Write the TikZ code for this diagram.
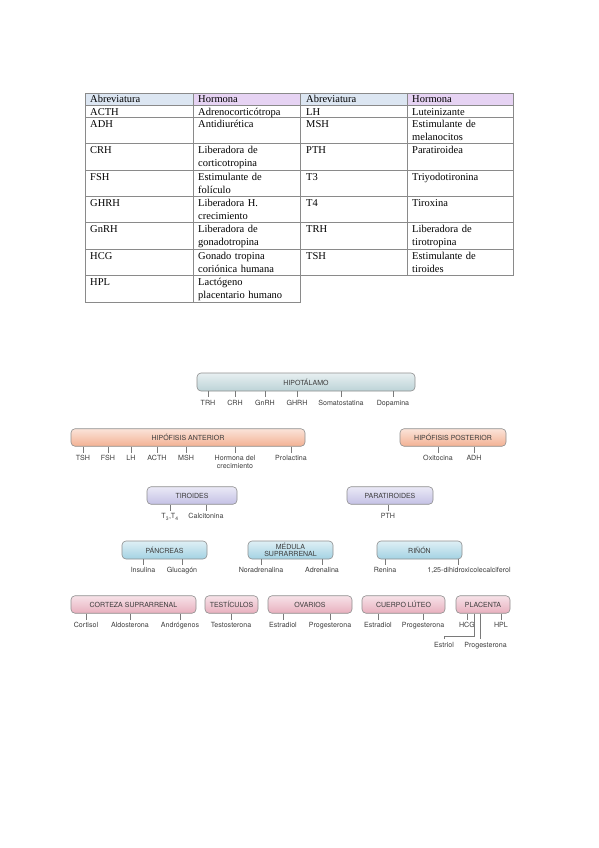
\documentclass[tikz,border=0pt]{standalone}
\usepackage{fontspec}
\setmainfont{Liberation Serif}
\newfontfamily\labfont{TeX Gyre Heros}

\definecolor{hipc}{HTML}{BCD3D7}
\definecolor{hifc}{HTML}{F3B193}
\definecolor{tirc}{HTML}{C4C1E5}
\definecolor{panc}{HTML}{A3D2E3}
\definecolor{corc}{HTML}{E8AFBE}
\definecolor{boxline}{HTML}{8E8E8E}
\definecolor{labtext}{HTML}{3C3C3C}
\definecolor{tickc}{HTML}{7A7A7A}
\definecolor{hdblue}{HTML}{DCE6F2}
\definecolor{hdlila}{HTML}{E6D3F3}
\definecolor{tline}{HTML}{8A8A8A}

\begin{document}
\begin{tikzpicture}[x=1pt, y=-1pt]
        \useasboundingbox (0,0) rectangle (599,848);

        % table
        \tikzstyle{cell} = [anchor=north west, inner sep=0pt, text width=100pt, align=left, font=\fontsize{10.5}{13}\selectfont]
        \tikzstyle{tl} = [draw=tline, line width=0.9pt]

        \fill[hdblue] (85,93) rectangle (193,105.5);
        \fill[hdlila] (193,93) rectangle (300,105.5);
        \fill[hdblue] (300,93) rectangle (407,105.5);
        \fill[hdlila] (407,93) rectangle (513,105.5);

        \draw[tl] (85,93) rectangle (300,302);
        \draw[tl] (300,93) rectangle (513,275.6);
        \draw[tl] (193,93) -- (193,302);
        \draw[tl] (407,93) -- (407,275.6);
        \foreach \y in {105.5,117.5,143.9,170.2,196.6,222.9,249.3,275.6}
            \draw[tl] (85,\y) -- (300,\y);
        \foreach \y in {105.5,117.5,143.9,170.2,196.6,222.9,249.3}
            \draw[tl] (300,\y) -- (513,\y);

        \node (abr1) [cell] at (90,93.5) {\strut Abreviatura};
        \node (hor1) [cell] at (198,93.5) {\strut Hormona};
        \node (abr2) [cell] at (306,93.5) {\strut Abreviatura};
        \node (hor2) [cell] at (412,93.5) {\strut Hormona};

        \node (acth-a) [cell] at (90,106) {\strut ACTH};
        \node (acth-h) [cell] at (198,106) {\strut Adrenocortic\'otropa};
        \node (adh-a) [cell] at (90,118) {\strut ADH};
        \node (adh-h) [cell] at (198,118) {\strut Antidiur\'etica};
        \node (crh-a) [cell] at (90,144.4) {\strut CRH};
        \node (crh-h) [cell] at (198,144.4) {\strut Liberadora de\\corticotropina};
        \node (fsh-a) [cell] at (90,170.7) {\strut FSH};
        \node (fsh-h) [cell] at (198,170.7) {\strut Estimulante de\\fol\'iculo};
        \node (ghrh-a) [cell] at (90,197.1) {\strut GHRH};
        \node (ghrh-h) [cell] at (198,197.1) {\strut Liberadora H.\\crecimiento};
        \node (gnrh-a) [cell] at (90,223.4) {\strut GnRH};
        \node (gnrh-h) [cell] at (198,223.4) {\strut Liberadora de\\gonadotropina};
        \node (hcg-a) [cell] at (90,249.8) {\strut HCG};
        \node (hcg-h) [cell] at (198,249.8) {\strut Gonado tropina\\cori\'onica humana};
        \node (hpl-a) [cell] at (90,276.1) {\strut HPL};
        \node (hpl-h) [cell] at (198,276.1) {\strut Lact\'ogeno\\placentario humano};

        \node (lh-a) [cell] at (306,106) {\strut LH};
        \node (lh-h) [cell] at (412,106) {\strut Luteinizante};
        \node (msh-a) [cell] at (306,118) {\strut MSH};
        \node (msh-h) [cell] at (412,118) {\strut Estimulante de\\melanocitos};
        \node (pth-a) [cell] at (306,144.4) {\strut PTH};
        \node (pth-h) [cell] at (412,144.4) {\strut Paratiroidea};
        \node (t3-a) [cell] at (306,170.7) {\strut T3};
        \node (t3-h) [cell] at (412,170.7) {\strut Triyodotironina};
        \node (t4-a) [cell] at (306,197.1) {\strut T4};
        \node (t4-h) [cell] at (412,197.1) {\strut Tiroxina};
        \node (trh-a) [cell] at (306,223.4) {\strut TRH};
        \node (trh-h) [cell] at (412,223.4) {\strut Liberadora de\\tirotropina};
        \node (tsh-a) [cell] at (306,249.8) {\strut TSH};
        \node (tsh-h) [cell] at (412,249.8) {\strut Estimulante de\\tiroides};

        % glands
        \tikzstyle{gl} = [draw=boxline, line width=0.6pt, rounded corners=4pt, inner sep=0pt, font=\labfont\fontsize{7}{7.4}\selectfont, text=labtext, align=center, minimum height=17.5pt]
        \tikzstyle{hipbox} = [gl, top color=hipc!35!white, bottom color=hipc]
        \tikzstyle{hifbox} = [gl, top color=hifc!35!white, bottom color=hifc]
        \tikzstyle{tirbox} = [gl, top color=tirc!35!white, bottom color=tirc]
        \tikzstyle{panbox} = [gl, top color=panc!35!white, bottom color=panc]
        \tikzstyle{corbox} = [gl, top color=corc!35!white, bottom color=corc]
        \tikzstyle{hl} = [font=\labfont\fontsize{7.1}{7.8}\selectfont, text=labtext, inner sep=0.8pt, outer ysep=2.5pt, text height=5.1pt, text depth=1.4pt, anchor=north, align=center]
        \tikzstyle{tk} = [draw=tickc, line width=0.6pt]

        \node (hipot) [hipbox, minimum width=218pt, minimum height=18pt] at (306,382) {HIPOT\'ALAMO};
        \node (hant) [hifbox, minimum width=234pt] at (188,437.5) {HIP\'OFISIS ANTERIOR};
        \node (hpost) [hifbox, minimum width=106pt] at (453,437.5) {HIP\'OFISIS POSTERIOR};
        \node (tiro) [tirbox, minimum width=90pt] at (192,495.5) {TIROIDES};
        \node (para) [tirbox, minimum width=86pt] at (390,495.5) {PARATIROIDES};
        \node (panc) [panbox, minimum width=85pt, minimum height=18pt] at (164.5,550) {P\'ANCREAS};
        \node (medu) [panbox, minimum width=85pt, minimum height=18pt] at (290.5,550) {M\'EDULA\\SUPRARRENAL};
        \node (rinon) [panbox, minimum width=85pt, minimum height=18pt] at (419.5,550) {RI\~N\'ON};
        \node (cort) [corbox, minimum width=125pt] at (133.5,604.5) {CORTEZA SUPRARRENAL};
        \node (test) [corbox, minimum width=53pt] at (231.5,604.5) {TEST\'ICULOS};
        \node (ovar) [corbox, minimum width=84pt] at (310,604.5) {OVARIOS};
        \node (cuer) [corbox, minimum width=83pt] at (403.5,604.5) {CUERPO L\'UTEO};
        \node (plac) [corbox, minimum width=54pt] at (483,604.5) {PLACENTA};

        % hormones
        \node (trh) [hl] at (208,397.4) {TRH};
        \node (crh) [hl] at (235,397.4) {CRH};
        \node (gnrh) [hl] at (265,397.4) {GnRH};
        \node (ghrh) [hl] at (297,397.4) {GHRH};
        \node (soma) [hl] at (341,397.4) {Somatostatina};
        \node (dopa) [hl] at (393,397.4) {Dopamina};

        \node (tsh) [hl] at (83,452.5) {TSH};
        \node (fsh) [hl] at (108,452.5) {FSH};
        \node (lh) [hl] at (131,452.5) {LH};
        \node (acth) [hl] at (157,452.5) {ACTH};
        \node (msh) [hl] at (186,452.5) {MSH};
        \node (gh) [hl, text height=12.9pt] at (235,452.5) {Hormona del\\crecimiento};
        \node (prl) [hl] at (291,452.5) {Prolactina};
        \node (oxi) [hl] at (438,452.5) {Oxitocina};
        \node (adh) [hl] at (474,452.5) {ADH};

        \node (t34) [hl] at (170,510.5) {T\textsubscript{3},T\textsubscript{4}};
        \node (calc) [hl] at (206,510.5) {Calcitonina};
        \node (pth) [hl] at (388,510.5) {PTH};

        \node (ins) [hl] at (143,564.5) {Insulina};
        \node (glu) [hl] at (182,564.5) {Glucag\'on};
        \node (nora) [hl] at (261,564.5) {Noradrenalina};
        \node (adre) [hl] at (322,564.5) {Adrenalina};
        \node (reni) [hl] at (385,564.5) {Renina};
        \node (dihi) [hl] at (469,564.5) {1,25-dihidroxicolecalciferol};

        \node (cortis) [hl] at (86,619.5) {Cortisol};
        \node (aldo) [hl] at (130,619.5) {Aldosterona};
        \node (andr) [hl] at (180,619.5) {Andr\'ogenos};
        \node (testo) [hl] at (231,619.5) {Testosterona};
        \node (estr1) [hl] at (283,619.5) {Estradiol};
        \node (prog1) [hl] at (330,619.5) {Progesterona};
        \node (estr2) [hl] at (378,619.5) {Estradiol};
        \node (prog2) [hl] at (423,619.5) {Progesterona};
        \node (hcg) [hl] at (467,619.5) {HCG};
        \node (hpl) [hl] at (501,619.5) {HPL};
        \node (estriol) [hl] at (444,639.4) {Estriol};
        \node (prog3) [hl] at (485.5,639.4) {Progesterona};

        % ticks
        \foreach \h in {trh,crh,gnrh,ghrh,soma,dopa}
            \draw[tk] (\h.north |- hipot.south) -- (\h.north);
        \foreach \h in {tsh,fsh,lh,acth,msh,gh,prl}
            \draw[tk] (\h.north |- hant.south) -- (\h.north);
        \foreach \h in {oxi,adh}
            \draw[tk] (\h.north |- hpost.south) -- (\h.north);
        \foreach \h in {t34,calc}
            \draw[tk] (\h.north |- tiro.south) -- (\h.north);
        \draw[tk] (pth.north |- para.south) -- (pth.north);
        \foreach \h in {ins,glu}
            \draw[tk] (\h.north |- panc.south) -- (\h.north);
        \foreach \h in {nora,adre}
            \draw[tk] (\h.north |- medu.south) -- (\h.north);
        \draw[tk] (reni.north |- rinon.south) -- (reni.north);
        \draw[tk] ([xshift=-11pt]dihi.north |- rinon.south) -- ([xshift=-11pt]dihi.north);
        \foreach \h in {cortis,aldo,andr}
            \draw[tk] (\h.north |- cort.south) -- (\h.north);
        \draw[tk] (testo.north |- test.south) -- (testo.north);
        \foreach \h in {estr1,prog1}
            \draw[tk] (\h.north |- ovar.south) -- (\h.north);
        \foreach \h in {estr2,prog2}
            \draw[tk] (\h.north |- cuer.south) -- (\h.north);
        \foreach \h in {hcg,hpl}
            \draw[tk] (\h.north |- plac.south) -- (\h.north);
        \draw[tk] ([xshift=-9pt]plac.south) -- ++(0,23) -| (estriol.north);
        \draw[tk] ([xshift=-3pt]plac.south) -- ([xshift=-3pt]plac.south |- prog3.north);

    \end{tikzpicture}
\end{document}
